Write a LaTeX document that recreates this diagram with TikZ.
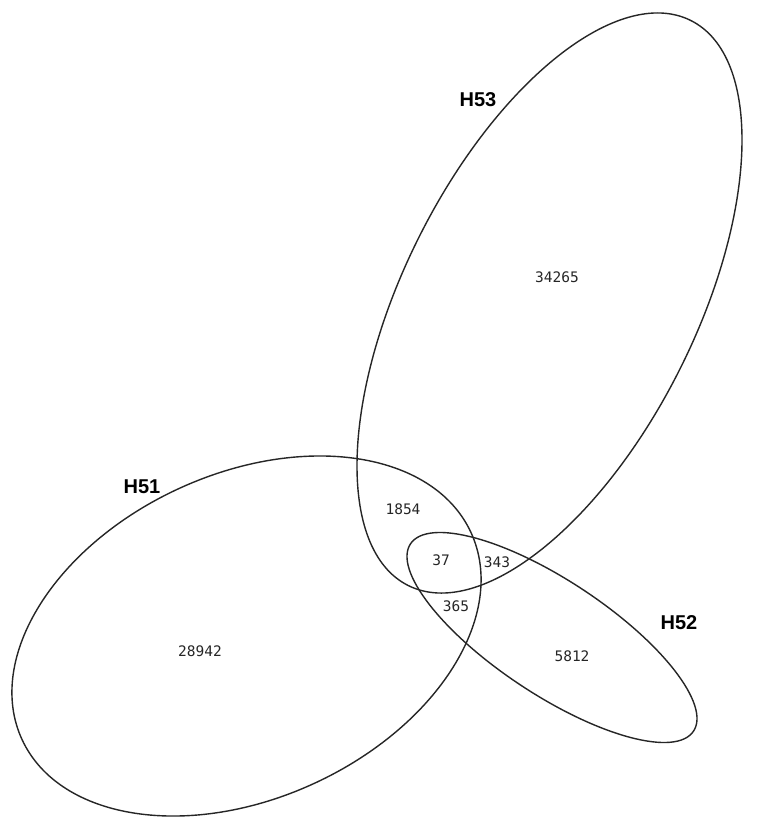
\documentclass[tikz,border=0pt]{standalone}
\usepackage{fontspec}
\newfontfamily\labfont{Liberation Sans}
\newfontfamily\numfont{DejaVu Sans Mono}
\begin{document}
\begin{tikzpicture}[x=1pt,y=-1pt,
  setline/.style={draw=black!85, line width=1.4pt},
  setlabel/.style={font=\labfont\bfseries\fontsize{20}{22}\selectfont, inner sep=0pt},
  count/.style={font=\numfont\fontsize{14.5}{16}\selectfont, text=black!85, inner sep=0pt}]
\useasboundingbox[fill=white] (0,0) rectangle (761,828);
% H51
\draw[setline, rotate around={24.75:(246.5,636)}] (246.5,636) ellipse [x radius=247.2, y radius=162.2];
% H53
\draw[setline, rotate around={63.43:(549.5,303)}] (549.5,303) ellipse [x radius=315.9, y radius=146.2];
% H52
\draw[setline, rotate around={-33.48:(552,637.5)}] (552,637.5) ellipse [x radius=169.7, y radius=57];
\node[setlabel] (h53) at (478,100) {H53};
\node[setlabel] (h51) at (142,487) {H51};
\node[setlabel] (h52) at (679,623) {H52};
\node[count] (n34265) at (557,277) {34265};
\node[count] (n1854) at (403,509) {1854};
\node[count] (n37) at (441,560) {37};
\node[count] (n343) at (497,562) {343};
\node[count] (n365) at (456,606) {365};
\node[count] (n28942) at (200,651) {28942};
\node[count] (n5812) at (572,656) {5812};
\end{tikzpicture}
\end{document}
